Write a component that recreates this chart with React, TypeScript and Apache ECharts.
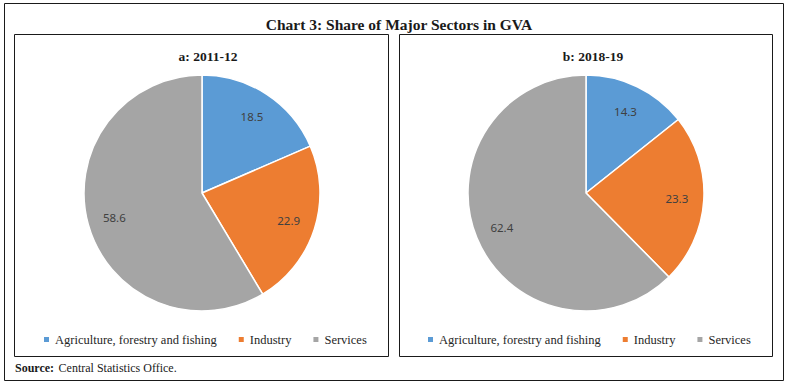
import React, { useEffect, useRef } from "react";
import * as echarts from "echarts";

const sectors = ["Agriculture, forestry and fishing", "Industry", "Services"];
const colors = ["#5B9BD5", "#ED7D31", "#A5A5A5"];
const values2011 = [18.5, 22.9, 58.6];
const values2018 = [14.3, 23.3, 62.4];
const mainTitle = "Chart 3: Share of Major Sectors in GVA";
const panelTitles = ["a: 2011-12", "b: 2018-19"];
const sourceText = "Central Statistics Office.";

const SERIF = "Liberation Serif";
const SANS = "Noto Sans";

function makeData(values: number[], withColor: boolean) {
  return values.map((v, i) => ({
    name: sectors[i],
    value: v,
    itemStyle: withColor
      ? { color: colors[i] }
      : { color: "rgba(0,0,0,0)", borderWidth: 0 },
  }));
}

function pieSeries(values: number[], center: number[]) {
  return [
    {
      type: "pie",
      center,
      radius: [0, 118],
      startAngle: 90,
      clockwise: true,
      data: makeData(values, true),
      label: { show: false },
      labelLine: { show: false },
      itemStyle: { borderColor: "#ffffff", borderWidth: 1.5 },
      emphasis: { disabled: true },
    },
    {
      type: "pie",
      center,
      radius: [58, 118],
      startAngle: 90,
      clockwise: true,
      silent: true,
      legendHoverLink: false,
      data: makeData(values, false),
      label: {
        show: true,
        position: "inside",
        formatter: (p: any) => p.value.toFixed(1),
        color: "#404040",
        fontFamily: SANS,
        fontSize: 11.5,
      },
      labelLine: { show: false },
      emphasis: { disabled: true },
    },
  ];
}

function legend(left: number) {
  return {
    left,
    top: 328,
    itemWidth: 7,
    itemHeight: 7,
    itemGap: 20,
    icon: "rect",
    selectedMode: false,
    data: sectors.map((s, i) => ({
      name: s,
      itemStyle: { color: colors[i] },
      textStyle: { fontFamily: SERIF, fontSize: 12.5, color: "#262626" },
    })),
    textStyle: { fontFamily: SERIF, fontSize: 12.5, color: "#262626" },
  };
}

export default function App() {
  const ref = useRef<HTMLDivElement>(null);
  useEffect(() => {
    if (!ref.current) return;
    const chart = echarts.init(ref.current, null, { renderer: "svg" });
    chart.setOption({
      animation: false,
      backgroundColor: "#ffffff",
      textStyle: { fontFamily: SERIF },
      title: [
        {
          text: mainTitle,
          left: 394,
          top: 11,
          textAlign: "center",
          textStyle: { fontFamily: SERIF, fontSize: 15.5, fontWeight: "bold", color: "#1a1a1a" },
        },
        {
          text: panelTitles[0],
          left: 203,
          top: 44,
          textAlign: "center",
          textStyle: { fontFamily: SERIF, fontSize: 13.5, fontWeight: "bold", color: "#1a1a1a" },
        },
        {
          text: panelTitles[1],
          left: 588,
          top: 44,
          textAlign: "center",
          textStyle: { fontFamily: SERIF, fontSize: 13.5, fontWeight: "bold", color: "#1a1a1a" },
        },
        {
          text: "{b|Source:} {n|" + sourceText + "}",
          left: 10,
          top: 356,
          textStyle: {
            fontWeight: "normal",
            lineHeight: 14,
            rich: {
              b: { fontFamily: SERIF, fontSize: 12, fontWeight: "bold", color: "#1a1a1a", lineHeight: 14 },
              n: { fontFamily: SERIF, fontSize: 12, fontWeight: "normal", color: "#1a1a1a", lineHeight: 14 },
            },
          },
        },
      ],
      legend: [legend(37), legend(421)],
      graphic: [
        {
          type: "rect",
          shape: { x: 4.5, y: 3.5, width: 779, height: 377 },
          style: { fill: "none", stroke: "#1a1a1a", lineWidth: 1 },
          silent: true,
        },
        {
          type: "rect",
          shape: { x: 14.5, y: 34.5, width: 374, height: 322 },
          style: { fill: "none", stroke: "#1a1a1a", lineWidth: 1 },
          silent: true,
        },
        {
          type: "rect",
          shape: { x: 399.5, y: 34.5, width: 373, height: 322 },
          style: { fill: "none", stroke: "#1a1a1a", lineWidth: 1 },
          silent: true,
        },
      ],
      series: [...pieSeries(values2011, [202, 193]), ...pieSeries(values2018, [586, 193])],
    });
    return () => chart.dispose();
  }, []);
  return (
    <div
      ref={ref}
      style={{ position: "absolute", left: 0, top: 0, width: 788, height: 386 }}
    />
  );
}
